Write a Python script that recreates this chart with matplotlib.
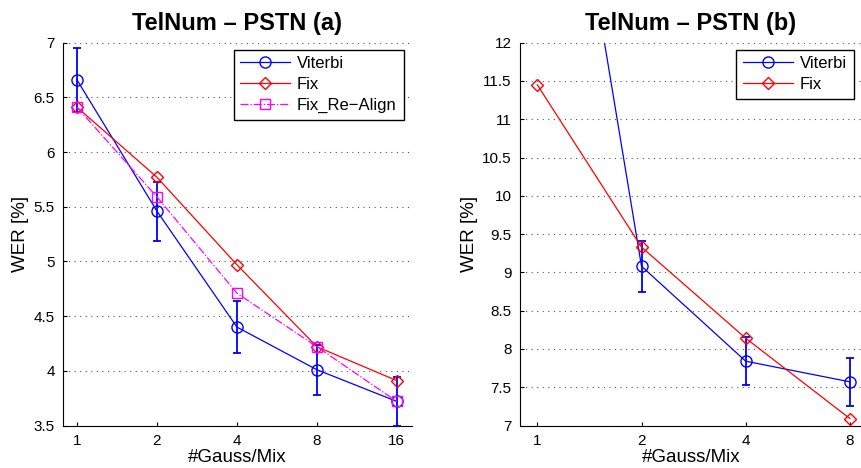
import matplotlib
matplotlib.use("Agg")
import matplotlib.pyplot as plt
import numpy as np

plt.rcParams["font.family"] = ["Liberation Sans", "DejaVu Sans"]

# Panel (a): 1..16 Gaussians per mixture
mix_a = ["1", "2", "4", "8", "16"]
viterbi_a = [6.66, 5.46, 4.40, 4.01, 3.72]
viterbi_a_err = [0.29, 0.27, 0.24, 0.23, 0.22]
fix_a = [6.41, 5.77, 4.97, 4.22, 3.91]
realign_a = [6.41, 5.59, 4.71, 4.22, 3.72]

# Panel (b): 1..8 Gaussians per mixture
mix_b = ["1", "2", "4", "8"]
viterbi_b = [17.3, 9.08, 7.84, 7.57]
viterbi_b_err = [0.0, 0.335, 0.31, 0.31]
fix_b = [11.45, 9.33, 8.14, 7.09]

W, H = 862, 468
fig = plt.figure(figsize=(W / 100, H / 100), dpi=100)
ax_a = fig.add_axes([63 / W, 1 - 425.5 / H, (412 - 63) / W, (425.5 - 42.7) / H])
ax_b = fig.add_axes([520 / W, 1 - 425.5 / H, (862 - 520) / W, (425.5 - 42.7) / H])

BLUE = "#0000ff"
RED = "#ff0000"
MAG = "#ff00ff"


def style(ax, labels, title):
    ax.set_xticks(np.arange(len(labels)))
    ax.set_xticklabels(labels)
    ax.set_title(title, fontsize=17, fontweight="bold", pad=9)
    ax.set_xlabel("#Gauss/Mix", fontsize=13.5, labelpad=1)
    ax.set_ylabel("WER [%]", fontsize=13.5, labelpad=3)
    ax.tick_params(labelsize=11, direction="in", length=3, pad=6)
    ax.grid(axis="y", linestyle=(0, (1, 4)), color="#555555", linewidth=0.8)
    ax.spines["top"].set_visible(False)
    ax.spines["right"].set_visible(False)


def legend(ax):
    leg = ax.legend(loc="upper right", fontsize=12, fancybox=False,
                    edgecolor="black", framealpha=1, handlelength=3,
                    borderaxespad=0.3, labelspacing=0.36, borderpad=0.4,
                    handletextpad=0.4, bbox_to_anchor=(0.99, 0.995))
    leg.get_frame().set_linewidth(1.0)


# ---- (a)
x = np.arange(len(mix_a))
ax_a.plot(x, viterbi_a, color=BLUE, lw=0.9, marker="o", ms=8, mfc="none",
          mec=BLUE, label="Viterbi", zorder=3)
ax_a.errorbar(x, viterbi_a, yerr=viterbi_a_err, fmt="none", ecolor=BLUE,
              elinewidth=1.3, capsize=3, capthick=1.3, zorder=3)
ax_a.plot(x, fix_a, color=RED, lw=0.9, marker="D", ms=6.5, mfc="none",
          mec=RED, label="Fix", zorder=3)
ax_a.plot(x, realign_a, color=MAG, lw=0.9, ls="-.", marker="s", ms=7,
          mfc="none", mec=MAG, label="Fix_Re\u2212Align", zorder=3)
ax_a.set_xlim(-0.175, 4.19)
ax_a.set_ylim(3.5, 7)
ax_a.set_yticks(np.arange(3.5, 7.01, 0.5))
ax_a.set_yticklabels(["3.5", "4", "4.5", "5", "5.5", "6", "6.5", "7"])
style(ax_a, mix_a, "TelNum \u2013 PSTN (a)")
legend(ax_a)

# ---- (b)
x = np.arange(len(mix_b))
ax_b.plot(x, viterbi_b, color=BLUE, lw=0.9, marker="o", ms=8, mfc="none",
          mec=BLUE, label="Viterbi", zorder=3)
ax_b.errorbar(x[1:], viterbi_b[1:], yerr=viterbi_b_err[1:], fmt="none",
              ecolor=BLUE, elinewidth=1.3, capsize=3, capthick=1.3, zorder=3)
ax_b.plot(x, fix_b, color=RED, lw=0.9, marker="D", ms=6.5, mfc="none",
          mec=RED, label="Fix", zorder=3)
ax_b.set_xlim(-0.166, 3.116)
ax_b.set_ylim(7, 12)
ax_b.set_yticks(np.arange(7, 12.01, 0.5))
ax_b.set_yticklabels(["7", "7.5", "8", "8.5", "9", "9.5", "10", "10.5",
                      "11", "11.5", "12"])
style(ax_b, mix_b, "TelNum \u2013 PSTN (b)")
legend(ax_b)

fig.savefig("out.png", dpi=100)
